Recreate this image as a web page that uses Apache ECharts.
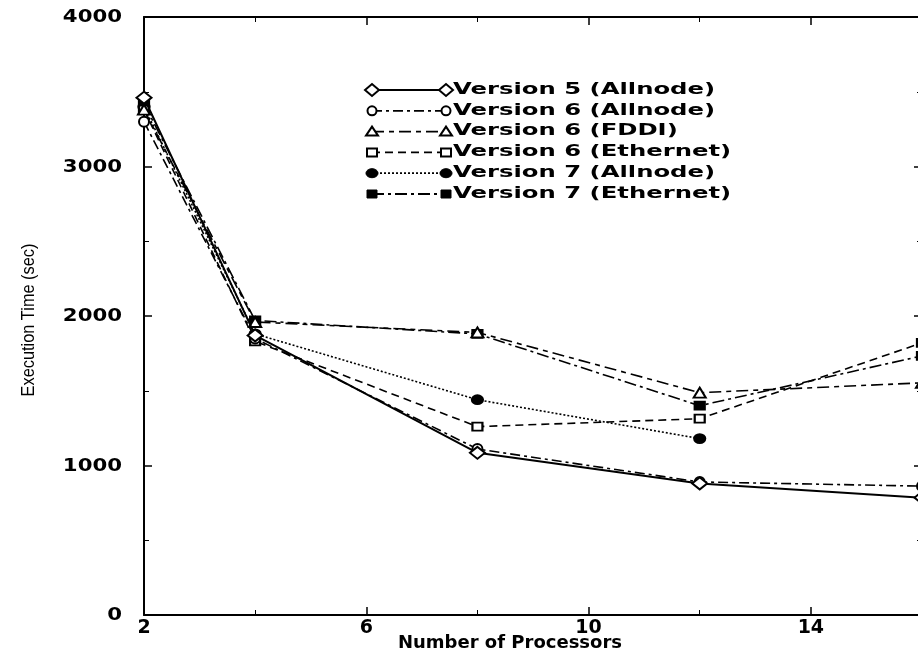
<!DOCTYPE html>
<html>
<head>
<meta charset="utf-8">
<script src="https://cdn.jsdelivr.net/npm/echarts@6/dist/echarts.min.js"></script>
<style>
  html, body { margin: 0; padding: 0; background: #fff; }
  #chart { width: 918px; height: 660px; }
</style>
</head>
<body>
<div id="chart"></div>
<script>
// number of processors
const procs = [2, 4, 8, 12, 16];
// execution time (sec)
const v5Allnode = [3460, 1870, 1085, 880, 785];
const v6Allnode = [3300, 1850, 1110, 890, 862];
const v6Fddi = [3380, 1960, 1890, 1487, 1553];
const v6Ethernet = [3380, 1830, 1260, 1313, 1820];
const v7Allnode = [3400, 1880, 1440, 1180, null];
const v7Ethernet = [3420, 1970, 1880, 1400, 1733];

const seriesNames = [
  "Version 5 (Allnode)",
  "Version 6 (Allnode)",
  "Version 6 (FDDI)",
  "Version 6 (Ethernet)",
  "Version 7 (Allnode)",
  "Version 7 (Ethernet)"
];
const seriesData = [v5Allnode, v6Allnode, v6Fddi, v6Ethernet, v7Allnode, v7Ethernet];
const symbols = ["emptyDiamond", "emptyCircle", "emptyTriangle", "emptyRect", "circle", "rect"];
const symbolSizes = [[15, 12], 10, [12, 10], [10, 8], [11, 9], [10, 8]];
const dashes = ["solid", [10, 4, 3, 4], [12, 5, 5, 5], [8, 5], [2, 2], [12, 4, 3, 4]];

const xTicks = [2, 6, 10, 14];
const yTicks = [0, 1000, 2000, 3000, 4000];

const chart = echarts.init(document.getElementById("chart"));

// legend drawn by hand: line sample with a marker at both ends
function marker(kind, x, y) {
  const open = { fill: "#fff", stroke: "#000", lineWidth: 2 };
  const full = { fill: "#000", stroke: "#000", lineWidth: 1 };
  if (kind === "emptyDiamond")
    return { type: "polygon", shape: { points: [[x - 7, y], [x, y - 6], [x + 7, y], [x, y + 6]] }, style: open };
  if (kind === "emptyCircle")
    return { type: "circle", shape: { cx: x, cy: y, r: 4.5 }, style: open };
  if (kind === "emptyTriangle")
    return { type: "polygon", shape: { points: [[x - 6, y + 4], [x, y - 5], [x + 6, y + 4]] }, style: open };
  if (kind === "emptyRect")
    return { type: "rect", shape: { x: x - 5, y: y - 4, width: 10, height: 8 }, style: open };
  if (kind === "circle")
    return { type: "ellipse", shape: { cx: x, cy: y, rx: 6, ry: 4.5 }, style: full };
  return { type: "rect", shape: { x: x - 5, y: y - 4, width: 10, height: 8 }, style: full };
}

const graphics = [];
seriesNames.forEach(function(name, i) {
  const y = 90 + i * 20.8;
  const dash = dashes[i] === "solid" ? null : dashes[i];
  graphics.push({
    type: "line",
    shape: { x1: 372, y1: y, x2: 446, y2: y },
    style: { stroke: "#000", lineWidth: 1.8, lineDash: dash }
  });
  graphics.push(marker(symbols[i], 372, y));
  graphics.push(marker(symbols[i], 446, y));
  graphics.push({
    type: "text",
    x: 453,
    y: y,
    scaleX: 1.62,
    style: {
      text: name,
      x: 0,
      y: 0,
      fill: "#000",
      font: "bold 15px 'DejaVu Sans'",
      verticalAlign: "middle",
      textVerticalAlign: "middle"
    }
  });
});

// y axis title: narrow upright text, rotated
graphics.push({
  type: "text",
  x: 29,
  y: 320,
  rotation: Math.PI / 2,
  scaleX: 0.86,
  style: {
    text: "Execution Time (sec)",
    x: 0,
    y: 0,
    fill: "#000",
    font: "19px 'Liberation Sans'",
    align: "center",
    textAlign: "center",
    verticalAlign: "middle",
    textVerticalAlign: "middle"
  }
});

// x axis title
graphics.push({
  type: "text",
  x: 510,
  y: 643,
  style: {
    text: "Number of Processors",
    x: 0,
    y: 0,
    fill: "#000",
    font: "bold 18px 'DejaVu Sans'",
    align: "center",
    textAlign: "center",
    verticalAlign: "middle",
    textVerticalAlign: "middle"
  }
});

const tickStyle = { color: "#000", width: 1.5 };

const option = {
  backgroundColor: "#fff",
  animation: false,
  grid: {
    left: 144,
    right: -4,
    top: 17,
    bottom: 45,
    outerBoundsMode: "none",
    show: false
  },
  xAxis: [
    {
      type: "value",
      min: 2,
      max: 16,
      interval: 4,
      axisLine: { show: true, onZero: false, lineStyle: { color: "#000", width: 2 } },
      axisTick: { show: true, inside: true, length: 8, lineStyle: tickStyle },
      minorTick: { show: true, splitNumber: 2, length: 5, lineStyle: { color: "#000" } },
      axisLabel: {
        margin: 4,
        fontFamily: "DejaVu Sans",
        fontWeight: "bold",
        fontSize: 19,
        color: "#000",
        formatter: function(v) { return xTicks.indexOf(v) >= 0 ? String(v) : ""; }
      },
      splitLine: { show: false }
    },
    {
      type: "value",
      position: "top",
      min: 2,
      max: 16,
      interval: 4,
      axisLine: { show: true, onZero: false, lineStyle: { color: "#000", width: 2 } },
      axisTick: { show: true, inside: true, length: 8, lineStyle: tickStyle },
      minorTick: { show: true, splitNumber: 2, length: 5, lineStyle: { color: "#000" } },
      axisLabel: { show: false },
      splitLine: { show: false }
    }
  ],
  yAxis: [
    {
      type: "value",
      min: 0,
      max: 4000,
      interval: 1000,
      axisLine: { show: true, onZero: false, lineStyle: { color: "#000", width: 2 } },
      axisTick: { show: true, inside: true, length: 8, lineStyle: tickStyle },
      minorTick: { show: true, splitNumber: 2, length: 5, lineStyle: { color: "#000" } },
      axisLabel: { show: false },
      splitLine: { show: false }
    },
    {
      type: "value",
      position: "right",
      min: 0,
      max: 4000,
      interval: 1000,
      axisLine: { show: true, onZero: false, lineStyle: { color: "#000", width: 2 } },
      axisTick: { show: true, inside: true, length: 8, lineStyle: tickStyle },
      minorTick: { show: true, splitNumber: 2, length: 5, lineStyle: { color: "#000" } },
      axisLabel: { show: false },
      splitLine: { show: false }
    }
  ],
  graphic: graphics,
  series: seriesNames.map(function(name, i) {
    return {
      name: name,
      type: "line",
      data: procs.map(function(p, j) { return [p, seriesData[i][j]]; }).filter(function(d) { return d[1] !== null; }),
      symbol: symbols[i],
      symbolSize: symbolSizes[i],
      showAllSymbol: true,
      z: 10 - i,
      lineStyle: { color: "#000", width: i === 0 ? 2 : 1.6, type: dashes[i] },
      itemStyle: { color: "#000", borderColor: "#000", borderWidth: 2 }
    };
  })
};

chart.setOption(option);

// y tick labels: wide bold digits, placed through the y axis scale
const yLabels = yTicks.map(function(v) {
  return {
    type: "text",
    x: 122,
    y: chart.convertToPixel({ yAxisIndex: 0 }, v) + 1,
    scaleX: 1.25,
    style: {
      text: String(v),
      x: 0,
      y: 0,
      fill: "#000",
      font: "bold 17px 'DejaVu Sans'",
      align: "right",
      textAlign: "right",
      verticalAlign: "middle",
      textVerticalAlign: "middle"
    }
  };
});
chart.setOption({ graphic: graphics.concat(yLabels) });
</script>
</body>
</html>
